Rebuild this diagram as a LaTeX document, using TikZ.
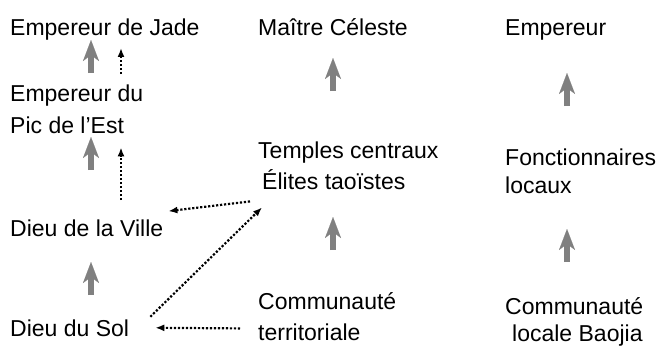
\documentclass[tikz,border=0pt]{standalone}
\usepackage{fontspec}
\setmainfont{Liberation Sans}
\usetikzlibrary{arrows.meta}

\begin{document}
\begin{tikzpicture}[
		x=1pt, y=-1pt,
		every node/.style={inner sep=0pt, align=left, font=\fontsize{23}{31}\selectfont},
		label/.style={anchor=base west},
		uparrow/.style={draw=gray, line width=6.5pt, -{Stealth[length=21pt, width=16pt, inset=6pt, line width=0.1pt]}},
		dotarrow/.style={dash pattern=on 2.2pt off 1.8pt, line width=2.2pt, -{Latex[length=9pt, width=7pt]}},
	]
		\useasboundingbox (0,0) rectangle (660,348);

		\node[label] (jade) at (10,35) {Empereur de Jade};
		\node[label] (pic) at (10,133) {Empereur du\\[1pt]Pic de l’Est};
		\node[label] (ville) at (10,236) {Dieu de la Ville};
		\node[label] (sol) at (10,336) {Dieu du Sol};

		\node[label] (maitre) at (258,35) {Maître Céleste};
		\node[label] (temples) at (258,189) {Temples centraux\\\hspace{4pt}Élites taoïstes};
		\node[label] (terr) at (258,340) {Communauté\\territoriale};

		\node[label] (emp) at (505,35) {Empereur};
		\node[label] (fonct) at (505,193) {Fonctionnaires\\[-3pt]locaux};
		\node[label] (baojia) at (505,341) {Communauté\\[-4pt]\hspace{7pt}locale Baojia};

		% gray arrows
		\coordinate (g1) at (91,73);
		\coordinate (g2) at (91,170);
		\coordinate (g3) at (91,295);
		\coordinate (g4) at (333,91);
		\coordinate (g5) at (333,250);
		\coordinate (g6) at (567,106);
		\coordinate (g7) at (567,262);
		\foreach \g in {g1,g2,g3,g4,g5,g6,g7}
			\draw[uparrow] (\g) -- ++(0,-33);

		% dotted links
		\draw[dotarrow] ([yshift=10pt]121,0 |- pic.north) -- ([yshift=-8pt]121,0 |- jade.south);
		\draw[dotarrow] ([yshift=19pt]121,0 |- ville.north) -- ([yshift=-14pt]121,0 |- pic.south);
		\draw[dotarrow] ([shift={(-8,12)}]temples.south west) -- ([shift={(5,-8)}]ville.north east);
		\draw[dotarrow] ([shift={(21,-11)}]sol.east) -- ([shift={(4,18)}]temples.south west);
		\draw[dotarrow] ([shift={(-18,-12)}]terr.south west) -- ([shift={(26,0)}]sol.east);
	\end{tikzpicture}
\end{document}
